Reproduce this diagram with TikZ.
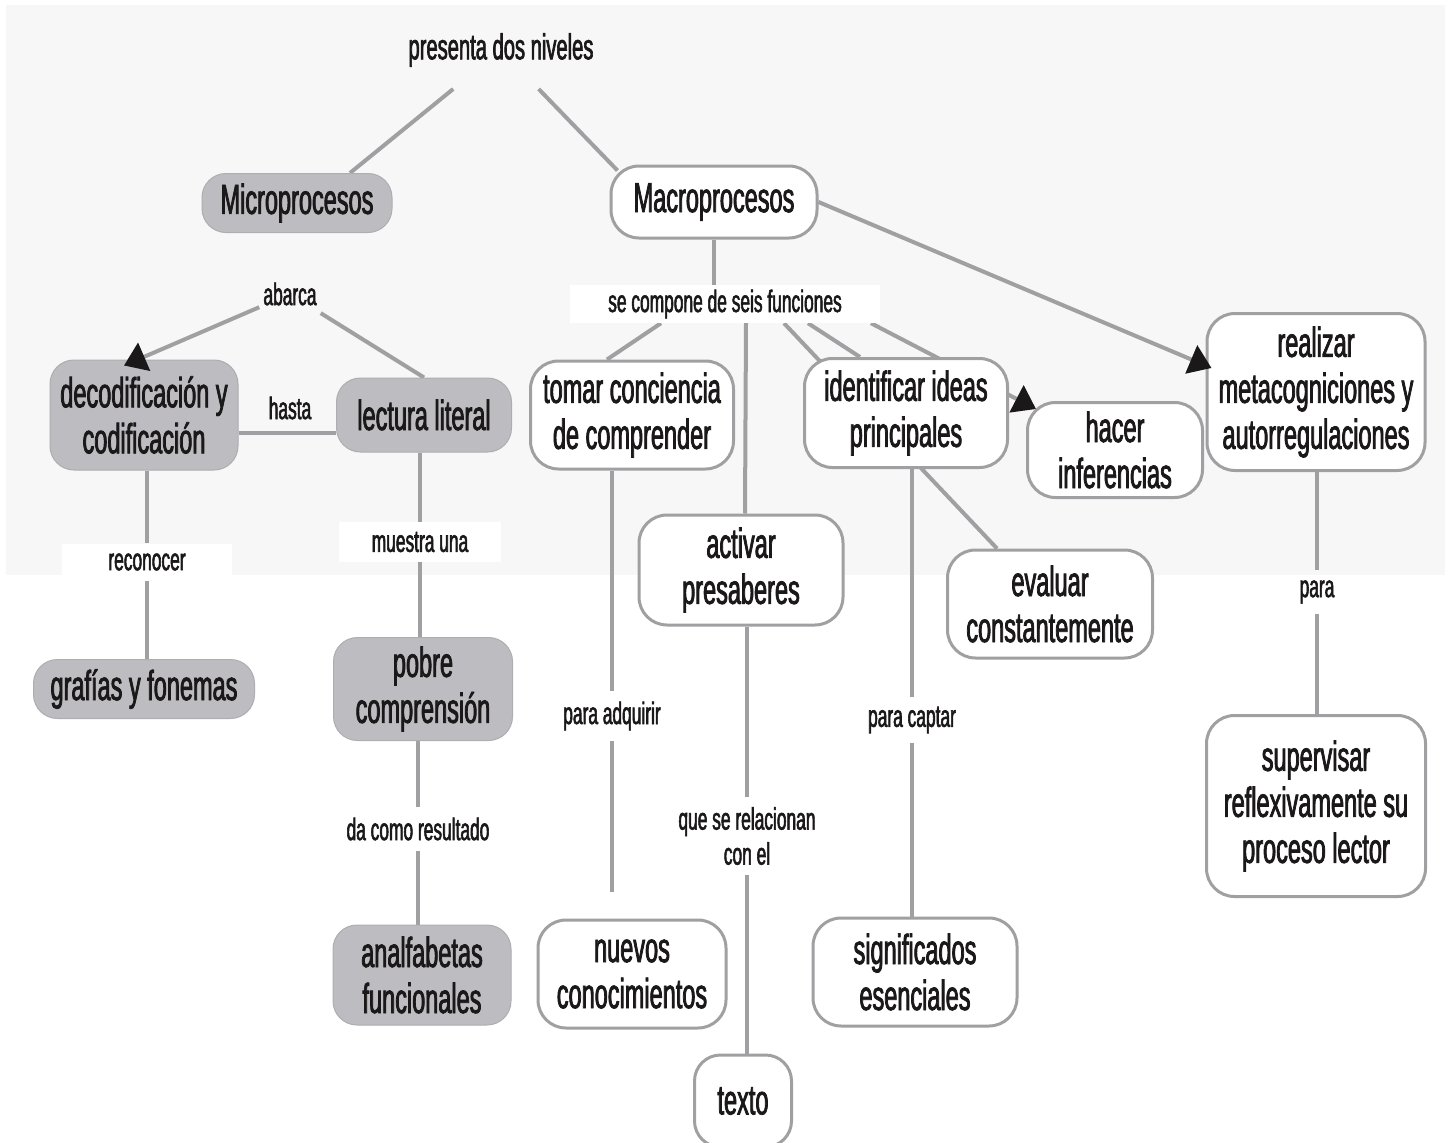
\documentclass[tikz,border=0pt]{standalone}
\usepackage{fontspec}
\setmainfont{Liberation Sans}[FakeStretch=0.56,FakeBold=1.8]
\usetikzlibrary{arrows.meta,backgrounds}
\pgfdeclarelayer{sheet}
\pgfsetlayers{sheet,background,main}

\definecolor{linegray}{RGB}{160,160,163}
\definecolor{boxgray}{RGB}{188,188,193}
\definecolor{sheetgray}{RGB}{247,247,247}
\definecolor{ink}{RGB}{26,24,24}

\tikzset{
  concept/.style={draw=linegray, line width=3pt, fill=white, rounded corners=28pt,
    align=center, text=ink, font=\fontsize{42}{46}\selectfont, inner sep=0pt},
  micro/.style={concept, draw=boxgray!92!black, line width=1pt, fill=boxgray, rounded corners=24pt},
  link/.style={align=center, text=ink, font=\fontsize{31}{35}\selectfont, inner xsep=4pt, inner ysep=10pt},
  whitelink/.style={link, fill=white},
  conn/.style={draw=linegray, line width=4pt},
  arr/.style={conn, -{Triangle[length=22pt,width=30pt,color=ink]}},
}

\begin{document}
\begin{tikzpicture}[x=1pt,y=-1pt]
\useasboundingbox (0,0) rectangle (1452,1143);
\begin{pgfonlayer}{sheet}
  \fill[sheetgray] (6,5) rectangle (1445,575);
\end{pgfonlayer}

% top
\node[link, font=\fontsize{36}{40}\selectfont, inner ysep=22pt] (presenta) at (501,50) {presenta dos niveles};
\node[micro, minimum width=190pt, minimum height=59pt] (micro) at (297,203) {Microprocesos};
\node[concept, minimum width=206pt, minimum height=72pt] (macro) at (714,202) {Macroprocesos};

% microprocesos side
\node[link] (abarca) at (290,294) {abarca};
\node[micro, minimum width=188pt, minimum height=110pt] (decod) at (144,415) {decodificación y\\codificación};
\node[link] (hasta) at (290,408) {hasta};
\node[micro, minimum width=175pt, minimum height=74pt] (lectura) at (424,415) {lectura literal};
\node[whitelink, minimum width=170pt] (reconocer) at (147,562) {reconocer};
\node[micro, minimum width=221pt, minimum height=59pt] (grafias) at (144,689) {grafías y fonemas};
\node[whitelink, minimum width=162pt] (muestra) at (420,542) {muestra una};
\node[micro, minimum width=179pt, minimum height=103pt] (pobre) at (423,689) {pobre\\comprensión};
\node[link] (resultado) at (418,829) {da como resultado};
\node[micro, minimum width=178pt, minimum height=100pt] (analf) at (422,975) {analfabetas\\funcionales};

% macroprocesos side
\node[whitelink, minimum width=310pt, minimum height=38pt, inner ysep=0pt] (compone) at (725,304) {se compone de seis funciones};
\node[concept, minimum width=203pt, minimum height=108pt] (tomar) at (632,415) {tomar conciencia\\de comprender};
\node[concept, minimum width=204pt, minimum height=110pt] (activar) at (741,570) {activar\\presaberes};
\node[concept, minimum width=203pt, minimum height=109pt] (ident) at (906,413) {identificar ideas\\principales};
\node[concept, minimum width=175pt, minimum height=95pt] (hacer) at (1115,450) {hacer\\inferencias};
\node[concept, minimum width=218pt, minimum height=157pt] (realizar) at (1316,392) {realizar\\metacogniciones y\\autorregulaciones};
\node[concept, minimum width=205pt, minimum height=108pt] (evaluar) at (1050,604) {evaluar\\constantemente};
\node[link] (adquirir) at (612,716) {para adquirir};
\node[concept, minimum width=188pt, minimum height=108pt] (nuevos) at (632,974) {nuevos\\conocimientos};
\node[link] (relacion) at (747,836) {que se relacionan\\con el};
\node[concept, minimum width=97pt, minimum height=92pt, rounded corners=26pt] (texto) at (743,1101) {texto};
\node[link] (captar) at (912,720) {para captar};
\node[concept, minimum width=204pt, minimum height=108pt] (signif) at (915,972) {significados\\esenciales};
\node[link] (para) at (1317,592) {para};
\node[concept, minimum width=219pt, minimum height=181pt] (superv) at (1316,806) {supervisar\\reflexivamente su\\proceso lector};

% arrows that sit over the boxes
\draw[arr] (abarca) -- ([xshift=-20pt,yshift=-6pt]decod.north);
\draw[arr] (macro.east) -- ([xshift=6pt,yshift=24pt]realizar.west);

% connectors, under the boxes
\begin{pgfonlayer}{background}
\draw[conn] (presenta) -- ([xshift=53pt]micro.north);
\draw[conn] (presenta) -- ([xshift=8pt,yshift=-6pt]macro.north west);

\draw[conn] (abarca) -- (lectura.north);
\draw[conn] ([yshift=-18pt]decod.east) -- ([yshift=-18pt]lectura.west);
\draw[conn] (decod.south -| reconocer) -- (reconocer) -- (grafias.north -| reconocer);
\draw[conn] (lectura.south -| muestra) -- (muestra) -- (pobre.north -| muestra);
\draw[conn] (pobre.south -| resultado) -- (resultado) -- (analf.north -| resultado);

\draw[conn] (macro) -- (macro |- compone.north);
\draw[conn] ([xshift=-64pt]compone.south) -- ([xshift=-25pt]tomar.north);
\draw[conn] ([xshift=21pt]compone.south) -- ([xshift=4pt]activar.north);
\draw[conn] ([xshift=83pt]compone.south) -- ([xshift=-46pt]ident.north);
\draw[conn] ([xshift=59pt]compone.south) -- ([xshift=-53pt]evaluar.north);
\draw[arr] ([xshift=146pt]compone.south) -- ([xshift=10pt,yshift=-8pt]hacer.north west);

\draw[conn, shorten >=27pt] (tomar.south -| adquirir) -- (adquirir) -- (nuevos.north -| adquirir);
\draw[conn] (activar.south -| relacion) -- (relacion) -- (texto.north -| relacion);
\draw[conn] (ident.south -| captar) -- (captar) -- (signif.north -| captar);
\draw[conn] (realizar.south -| para) -- (para) -- (superv.north -| para);
\end{pgfonlayer}
\end{tikzpicture}
\end{document}
